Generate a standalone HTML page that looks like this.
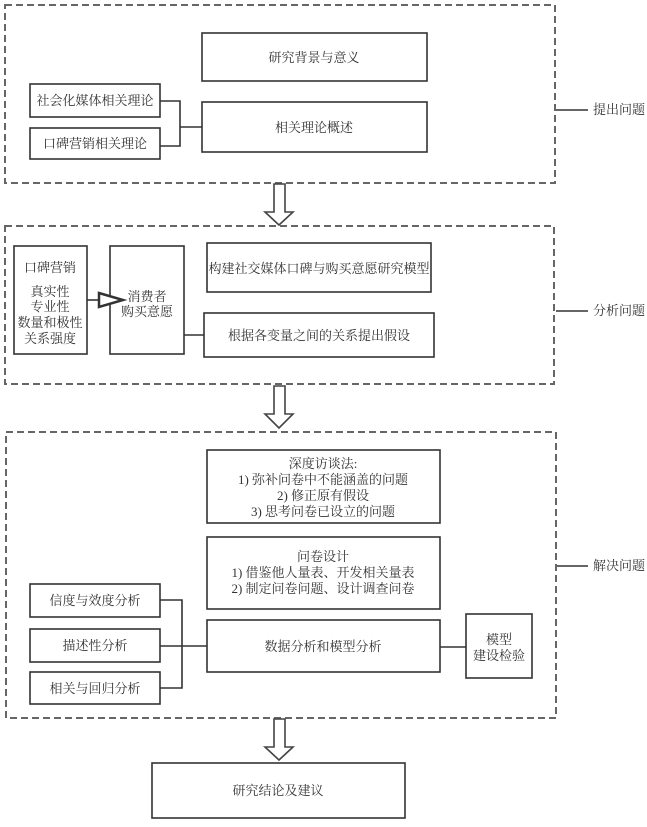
<!DOCTYPE html>
<html><head><meta charset="utf-8"><style>
body{margin:0;background:#fff}
text{font-family:"Liberation Serif","Noto Serif CJK SC",serif;font-size:13px;fill:#333;text-anchor:middle}
</style></head><body>
<svg width="647" height="822" viewBox="0 0 647 822" xmlns="http://www.w3.org/2000/svg">
<g fill="none" stroke="#666" stroke-width="2" stroke-dasharray="7,4">
<rect x="5" y="5" width="550" height="178"/>
<rect x="5" y="226" width="549" height="158"/>
<rect x="6" y="432" width="550" height="286"/>
</g>
<g fill="#fff" stroke="#333" stroke-width="1.6">
<rect x="202" y="33" width="225" height="48"/>
<rect x="30" y="84" width="130" height="33"/>
<rect x="30" y="128" width="130" height="31"/>
<rect x="202" y="102" width="225" height="50"/>
<rect x="14" y="246" width="73" height="108"/>
<rect x="110" y="246" width="74" height="108"/>
<rect x="207" y="243" width="224" height="49"/>
<rect x="204" y="313" width="230" height="44"/>
<rect x="207" y="450" width="233" height="73"/>
<rect x="207" y="537" width="233" height="72"/>
<rect x="207" y="620" width="233" height="52"/>
<rect x="466" y="614" width="66" height="64"/>
<rect x="30" y="584" width="130" height="33"/>
<rect x="30" y="629" width="130" height="33"/>
<rect x="30" y="672" width="130" height="32"/>
<rect x="152" y="763" width="253" height="55"/>
</g>
<g fill="none" stroke="#333" stroke-width="1.6">
<path d="M160 101H180V146H160M180 127H202"/>
<path d="M184 335H204"/>
<path d="M160 600H182V688H160M160 646H207M440 647H466"/>
<path d="M87 300H100"/>
<path d="M556 110H588M556 311H588M557 566H588"/>
</g>
<path d="M99 293L123 300L99 307Z" fill="#fff" stroke="#333" stroke-width="2.5"/>
<g fill="#fff" stroke="#444" stroke-width="1.6">
<path d="M274 184H285V212H293L279 225L265 212H274Z"/>
<path d="M274 386H285V414H293L279 428L265 414H274Z"/>
<path d="M274 719H285V747H293L279 760L265 747H274Z"/>
</g>
<text x="314" y="62">研究背景与意义</text>
<text x="95" y="105">社会化媒体相关理论</text>
<text x="95" y="148">口碑营销相关理论</text>
<text x="314" y="132">相关理论概述</text>
<text x="619" y="114">提出问题</text>
<text x="50" y="272">口碑营销</text>
<text x="50" y="296">真实性</text>
<text x="50" y="311">专业性</text>
<text x="50" y="327">数量和极性</text>
<text x="50" y="343">关系强度</text>
<text x="147" y="301">消费者</text>
<text x="147" y="316">购买意愿</text>
<text x="319" y="273">构建社交媒体口碑与购买意愿研究模型</text>
<text x="319" y="340">根据各变量之间的关系提出假设</text>
<text x="619" y="315">分析问题</text>
<text x="323" y="468">深度访谈法:</text>
<text x="323" y="484">1) 弥补问卷中不能涵盖的问题</text>
<text x="323" y="500">2) 修正原有假设</text>
<text x="323" y="516">3) 思考问卷已设立的问题</text>
<text x="323" y="561">问卷设计</text>
<text x="323" y="577">1) 借鉴他人量表、开发相关量表</text>
<text x="323" y="593">2) 制定问卷问题、设计调查问卷</text>
<text x="323" y="651">数据分析和模型分析</text>
<text x="499" y="644">模型</text>
<text x="499" y="660">建设检验</text>
<text x="95" y="605">信度与效度分析</text>
<text x="95" y="650">描述性分析</text>
<text x="95" y="693">相关与回归分析</text>
<text x="619" y="570">解决问题</text>
<text x="278" y="795">研究结论及建议</text>
</svg>
</body></html>
